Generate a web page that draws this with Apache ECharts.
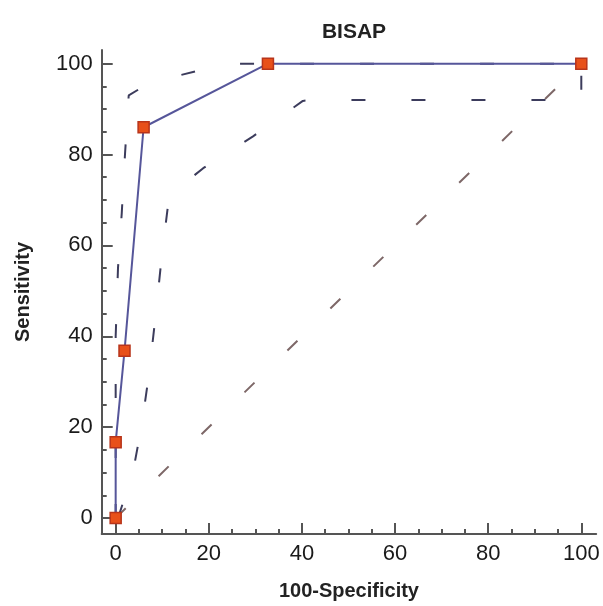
<!DOCTYPE html>
<html>
<head>
<meta charset="utf-8">
<script src="https://cdn.jsdelivr.net/npm/echarts@6/dist/echarts.min.js"></script>
<style>
html,body{margin:0;padding:0;background:#fff;}
#chart{width:603px;height:606px;}
</style>
</head>
<body>
<div id="chart"></div>
<script>
// ROC curve points: [100-Specificity, Sensitivity]
const rocX = [0, 0, 1.9, 6, 32.7, 100];
const rocY = [0, 16.7, 36.8, 86, 100, 100];
// Upper 95% confidence bound
const upperX = [0, 0, 0.5, 1.3, 2, 2.8, 6, 12, 24, 100];
const upperY = [0, 40, 55, 67, 80, 93, 95, 97, 100, 100];
// Lower 95% confidence bound
const lowerX = [0.5, 3.7, 5.6, 7.2, 8.6, 9.9, 11.5, 18.8, 29.5, 40.2, 42, 100, 100];
const lowerY = [0, 10, 20.5, 32, 44.8, 57.6, 71, 77, 84, 91.8, 92, 92, 100];
// Reference diagonal
const diagX = [0, 100];
const diagY = [0, 100];
// Tick values
const majorTicks = [0, 20, 40, 60, 80, 100];
const minorTicks = [0,5,10,15,20,25,30,35,40,45,50,55,60,65,70,75,80,85,90,95,100];

const zip = (xs, ys) => xs.map((x, i) => [x, ys[i]]);

const axisCol = '#555';
const font = 'Liberation Sans, Arial, sans-serif';

function makeAxis(isX, major) {
  const a = {
    type: 'value',
    position: isX ? 'bottom' : 'left',
    min: isX ? -3 : -3.5,
    max: isX ? 103.2 : 103,
    splitLine: {show: false},
    axisLine: {show: major, onZero: false, lineStyle: {color: axisCol, width: 2}},
    axisTick: {
      show: true, inside: true, length: major ? 11 : 5,
      customValues: major ? majorTicks : minorTicks,
      lineStyle: {color: axisCol, width: 2}
    },
    axisLabel: {
      show: major, customValues: majorTicks, margin: 9,
      fontSize: 22, color: '#1a1a1a', fontFamily: font
    }
  };
  if (major) {
    a.name = isX ? '100-Specificity' : 'Sensitivity';
    a.nameLocation = 'middle';
    a.nameGap = isX ? 47 : 68;
    a.nameTextStyle = {fontSize: 20, fontWeight: 'bold', color: '#222', fontFamily: font};
  }
  return a;
}

const chart = echarts.init(document.getElementById('chart'), null, {renderer: 'canvas'});
chart.setOption({
  animation: false,
  backgroundColor: '#fff',
  title: {
    text: 'BISAP', left: 349, top: 17, textAlign: 'center',
    textStyle: {fontSize: 21, fontWeight: 'bold', color: '#222', fontFamily: font}
  },
  grid: {left: 101.7, right: 6.8, top: 50, bottom: 68.2, containLabel: false},
  xAxis: [makeAxis(true, true), makeAxis(true, false)],
  yAxis: [makeAxis(false, true), makeAxis(false, false)],
  series: [
    {
      type: 'line', data: zip(diagX, diagY), symbol: 'none', z: 1,
      lineStyle: {color: '#7d6767', width: 2, type: [14, 46]}
    },
    {
      type: 'line', data: zip(upperX, upperY), symbol: 'none', z: 2,
      lineStyle: {color: '#3c3c5c', width: 2, type: [14, 46]}
    },
    {
      type: 'line', data: zip(lowerX, lowerY), symbol: 'none', z: 2,
      lineStyle: {color: '#3c3c5c', width: 2, type: [14, 46]}
    },
    {
      type: 'line', data: zip(rocX, rocY), z: 5,
      symbol: 'rect', symbolSize: 11, showAllSymbol: true,
      lineStyle: {color: '#56569a', width: 2},
      itemStyle: {color: '#e8501a', borderColor: '#b8341a', borderWidth: 1.5}
    }
  ]
});
</script>
</body>
</html>
